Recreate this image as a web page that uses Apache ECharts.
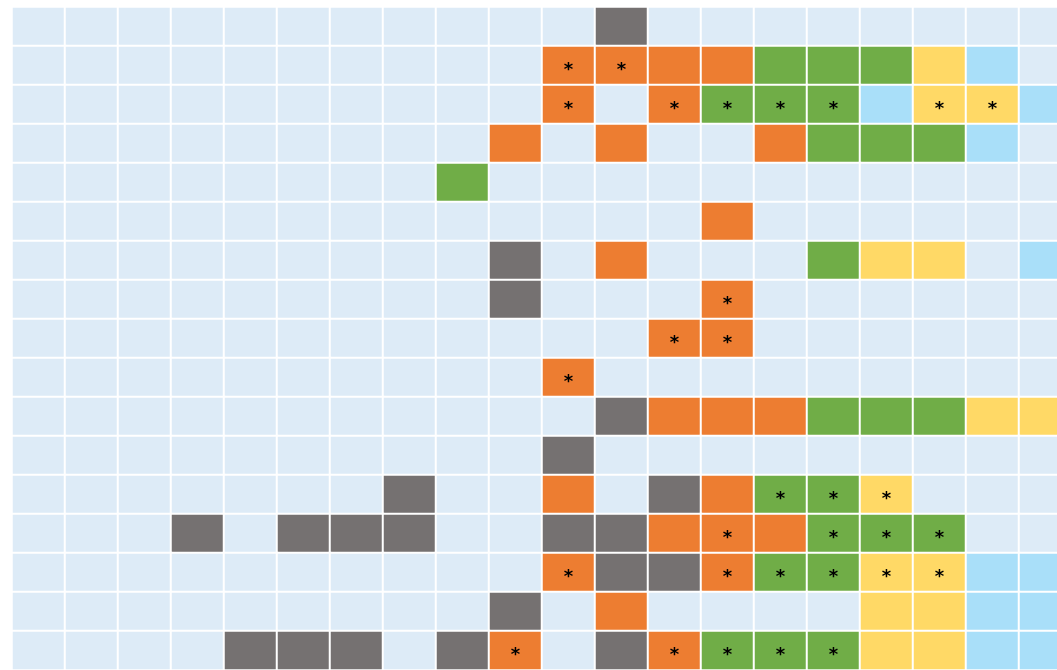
<!DOCTYPE html>
<html>
<head>
<meta charset="utf-8">
<script src="https://cdn.jsdelivr.net/npm/echarts@6/dist/echarts.min.js"></script>
<style>
    html, body {margin: 0; padding: 0; background: #fff; overflow: hidden;}
    #main {width: 1080px; height: 670px;}
</style>
</head>
<body>
<div id="main"></div>
<script>
// 0 = empty, 1 = gray, 2 = orange, 3 = green, 4 = yellow, 5 = blue
const levels = ['0', '1', '2', '3', '4', '5'];
const levelColors = ['#DDEBF7', '#757171', '#ED7D31', '#70AD47', '#FFD966', '#A9DFF9'];

const columns = ['1', '2', '3', '4', '5', '6', '7', '8', '9', '10',
    '11', '12', '13', '14', '15', '16', '17', '18', '19', '20'];
const rowNames = ['r1', 'r2', 'r3', 'r4', 'r5', 'r6', 'r7', 'r8', 'r9',
    'r10', 'r11', 'r12', 'r13', 'r14', 'r15', 'r16', 'r17'];

const cells = [
    [0, 0, 0, 0, 0, 0, 0, 0, 0, 0, 0, 1, 0, 0, 0, 0, 0, 0, 0, 0],
    [0, 0, 0, 0, 0, 0, 0, 0, 0, 0, 2, 2, 2, 2, 3, 3, 3, 4, 5, 0],
    [0, 0, 0, 0, 0, 0, 0, 0, 0, 0, 2, 0, 2, 3, 3, 3, 5, 4, 4, 5],
    [0, 0, 0, 0, 0, 0, 0, 0, 0, 2, 0, 2, 0, 0, 2, 3, 3, 3, 5, 0],
    [0, 0, 0, 0, 0, 0, 0, 0, 3, 0, 0, 0, 0, 0, 0, 0, 0, 0, 0, 0],
    [0, 0, 0, 0, 0, 0, 0, 0, 0, 0, 0, 0, 0, 2, 0, 0, 0, 0, 0, 0],
    [0, 0, 0, 0, 0, 0, 0, 0, 0, 1, 0, 2, 0, 0, 0, 3, 4, 4, 0, 5],
    [0, 0, 0, 0, 0, 0, 0, 0, 0, 1, 0, 0, 0, 2, 0, 0, 0, 0, 0, 0],
    [0, 0, 0, 0, 0, 0, 0, 0, 0, 0, 0, 0, 2, 2, 0, 0, 0, 0, 0, 0],
    [0, 0, 0, 0, 0, 0, 0, 0, 0, 0, 2, 0, 0, 0, 0, 0, 0, 0, 0, 0],
    [0, 0, 0, 0, 0, 0, 0, 0, 0, 0, 0, 1, 2, 2, 2, 3, 3, 3, 4, 4],
    [0, 0, 0, 0, 0, 0, 0, 0, 0, 0, 1, 0, 0, 0, 0, 0, 0, 0, 0, 0],
    [0, 0, 0, 0, 0, 0, 0, 1, 0, 0, 2, 0, 1, 2, 3, 3, 4, 0, 0, 0],
    [0, 0, 0, 1, 0, 1, 1, 1, 0, 0, 1, 1, 2, 2, 2, 3, 3, 3, 0, 0],
    [0, 0, 0, 0, 0, 0, 0, 0, 0, 0, 2, 1, 1, 2, 3, 3, 4, 4, 5, 5],
    [0, 0, 0, 0, 0, 0, 0, 0, 0, 1, 0, 2, 0, 0, 0, 0, 4, 4, 5, 5],
    [0, 0, 0, 0, 1, 1, 1, 0, 1, 2, 0, 1, 2, 3, 3, 3, 4, 4, 5, 5]
];

// starred cells as [column, row]
const stars = [
    [10, 1], [11, 1],
    [10, 2], [12, 2], [13, 2], [14, 2], [15, 2], [17, 2], [18, 2],
    [13, 7],
    [12, 8], [13, 8],
    [10, 9],
    [14, 12], [15, 12], [16, 12],
    [13, 13], [15, 13], [16, 13], [17, 13],
    [10, 14], [13, 14], [14, 14], [15, 14], [16, 14], [17, 14],
    [9, 16], [12, 16], [13, 16], [14, 16], [15, 16]
];

const starSet = {};
stars.forEach(s => {
    starSet[s[0] + '_' + s[1]] = true;
});

const data = [];
cells.forEach((row, r) => {
    row.forEach((v, c) => {
        data.push([c, r, v]);
    });
});

// the chart is cut at the right edge, so the div is wider than the window
const myChart = echarts.init(document.getElementById('main'));
myChart.setOption({
    animation: false,
    grid: {
        left: 12,
        top: 7,
        width: 1060,
        height: 664
    },
    xAxis: {
        type: 'category',
        data: columns,
        show: false
    },
    yAxis: {
        type: 'category',
        data: rowNames,
        inverse: true,
        show: false
    },
    visualMap: {
        type: 'piecewise',
        show: false,
        dimension: 2,
        categories: levels,
        inRange: {
            color: levelColors
        }
    },
    series: [{
        type: 'heatmap',
        data: data,
        itemStyle: {
            borderColor: '#fff',
            borderWidth: 2
        },
        label: {
            show: true,
            color: '#000',
            fontFamily: 'DejaVu Sans',
            fontWeight: 'bold',
            fontSize: 18,
            offset: [0, 5],
            formatter: p => starSet[p.value[0] + '_' + p.value[1]] ? '*' : ''
        },
        emphasis: {
            disabled: true
        }
    }]
});
</script>
</body>
</html>
